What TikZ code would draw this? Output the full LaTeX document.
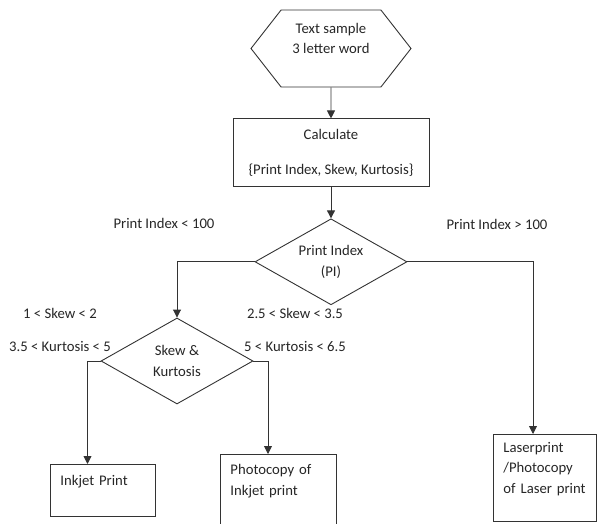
\documentclass[tikz,border=0pt]{standalone}
\usepackage{fontspec}
\setmainfont{Carlito}
\usetikzlibrary{shapes.geometric,shapes.symbols,arrows.meta,positioning}
\tikzset{
  >={Triangle[length=8pt,width=8pt]},
  hexbox/.style={signal,signal to=west and east,signal pointer angle=104,
                 draw,minimum width=160pt,minimum height=77pt,
                 inner sep=0pt,align=center},
  procbox/.style={rectangle,draw,minimum width=196pt,minimum height=68pt,
                  align=center},
  decide/.style={diamond,draw,shape aspect=1.78,minimum width=152pt,
                 minimum height=86pt,inner sep=0pt,align=center},
  outbox/.style={rectangle,draw,anchor=north west,align=left,
                 inner xsep=10pt,inner ysep=0pt},
  cond/.style={inner sep=0pt},
  arr/.style={->,line width=0.9pt,draw=black!80},
}
\begin{document}
\begin{tikzpicture}[x=1pt,y=-1pt,
    every node/.style={font=\fontsize{14.7pt}{20.5pt}\selectfont,text=black!85},
    line width=0.9pt,draw=black!80]
    \useasboundingbox (0,0) rectangle (597,524);
    \clip (0,0) rectangle (597,524);

    \node[hexbox]  (sample) at (331,48.5) {Text sample\\3 letter word\\\mbox{}};
    \node[procbox,below=31pt of sample] (calc) {Calculate\\[15pt]\{Print Index, Skew, Kurtosis\}};
    \node[decide,below=31pt of calc] (pi) {Print Index\\(PI)};
    \node[decide]  (skew) at (177,361) {Skew \&\\Kurtosis};

    \node[outbox,text width=85pt,minimum height=52pt]  (inkjet) at (50,464)
         {Inkjet Print\\\mbox{}};
    \node[outbox,text width=96pt,minimum height=92pt]  (photo)  at (220,454)
         {Photocopy of\\Inkjet print\\\mbox{}\\\mbox{}};
    \node[outbox,text width=83pt,minimum height=87pt]  (laser)  at (493,434)
         {Laserprint\\/Photocopy\\of Laser print\\\mbox{}};

    % conditions
    \node[cond] (pilow)  at (164,223) {Print Index < 100};
    \node[cond] (pihigh) at (497,224) {Print Index > 100};
    \node[cond] (skewa)  at (60,313)  {1 < Skew < 2};
    \node[cond] (kurta)  at (60,346)  {3.5 < Kurtosis < 5};
    \node[cond] (skewb)  at (295,313) {2.5 < Skew < 3.5};
    \node[cond] (kurtb)  at (295,346) {5 < Kurtosis < 6.5};

    \draw[arr] (sample) -- (calc);
    \draw[arr] (calc) -- (pi);
    \draw[arr] (pi.west) -| (skew.north);
    \draw[arr] (pi.east) -| ([xshift=40pt]laser.north west);
    \draw[arr] (skew.west) -| ([xshift=37.5pt]inkjet.north west);
    \draw[arr] (skew.east) -| ([xshift=48pt]photo.north west);
\end{tikzpicture}
\end{document}
